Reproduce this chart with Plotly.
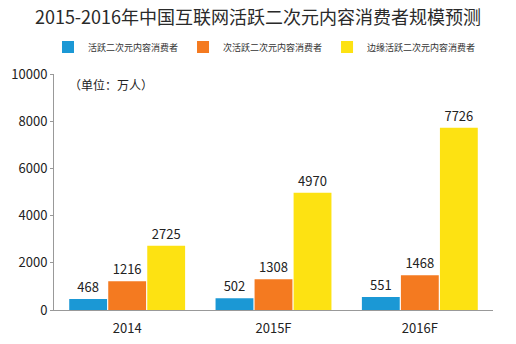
import plotly.graph_objects as go

categories = ["2014", "2015F", "2016F"]
series_names = ["活跃二次元内容消费者", "次活跃二次元内容消费者", "边缘活跃二次元内容消费者"]
active = [468, 502, 551]
semi_active = [1216, 1308, 1468]
marginal = [2725, 4970, 7726]
colors = ["#1b98d5", "#f47a20", "#fde212"]
y_ticks = [0, 2000, 4000, 6000, 8000, 10000]
y_tick_text = ["0", "2000", "4000", "6000", "8000", "10000"]

FONT = "Noto Sans CJK SC"
fig = go.Figure()
for name, vals, c in zip(series_names, [active, semi_active, marginal], colors):
    fig.add_trace(go.Bar(
        x=categories, y=vals, name=name, marker=dict(color=c, line=dict(width=0)),
        text=[str(v) for v in vals], textposition="outside",
        textfont=dict(size=13, color="#222222", family=FONT), cliponaxis=False,
    ))

fig.update_layout(
    width=516, height=344,
    margin=dict(l=54, r=23, t=74, b=34, autoexpand=False),
    paper_bgcolor="white", plot_bgcolor="white",
    barmode="group", bargap=0.2, bargroupgap=0.03,
    font=dict(family=FONT, color="#222222"),
    title=dict(text="2015-2016年中国互联网活跃二次元内容消费者规模预测",
               x=0.5, xanchor="center", xref="container",
               y=1 - 18 / 344, yanchor="middle", yref="container",
               font=dict(size=18, color="#2a2a2a", family=FONT)),
    legend=dict(orientation="h", xref="container", x=48 / 516, xanchor="left",
                yref="container", y=1 - 47 / 344, yanchor="middle",
                font=dict(size=9, color="#333333", family=FONT),
                itemwidth=30, tracegroupgap=0, bgcolor="rgba(0,0,0,0)"),
    showlegend=True,
)
fig.update_xaxes(showline=True, linecolor="#999999", linewidth=1, ticks="",
                 tickfont=dict(size=13, color="#222222"), showgrid=False,
                 ticklabelstandoff=6)
fig.update_yaxes(range=[0, 10000], tickvals=y_ticks, ticktext=y_tick_text,
                 showline=True, linecolor="#999999",
                 linewidth=1, ticks="outside", ticklen=3, tickcolor="#999999",
                 tickfont=dict(size=13, color="#222222"), showgrid=False, zeroline=False)
fig.add_annotation(text="（单位：万人）", xref="paper", yref="paper", x=0.03, y=0.955,
                   xanchor="left", yanchor="middle", showarrow=False,
                   font=dict(size=12, color="#222222", family=FONT))
fig.write_html("out.html")
